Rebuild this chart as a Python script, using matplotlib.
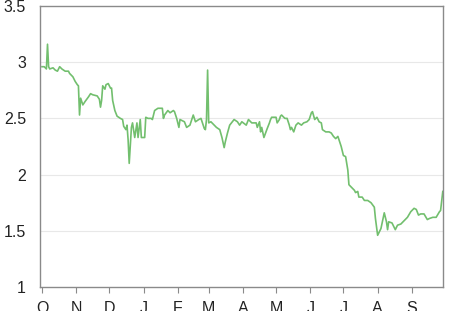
import numpy as np
import pandas as pd
import matplotlib
matplotlib.use("Agg")
import matplotlib.pyplot as plt
import matplotlib.dates as mdates
from matplotlib.ticker import FuncFormatter

# days since 1 Oct and the value
start = pd.Timestamp("2014-10-01")
day_offsets = [
    0, 2, 4, 5, 6, 7, 10, 12, 14, 16, 18, 21, 24, 25, 28, 30, 32, 33, 34, 35,
    37, 39, 42, 44, 46, 50, 52, 53, 54, 55, 57, 58, 60, 62, 63, 64, 66, 68, 71, 73,
    74, 76, 77, 78, 79, 81, 82, 84, 86, 87, 89, 90, 91, 93, 94, 96, 99, 100, 102, 105,
    109, 110, 111, 114, 116, 119, 120, 122, 124, 125, 129, 131, 134, 137, 139, 142, 144, 147, 148, 149,
    150, 151, 153, 156, 158, 161, 163, 165, 166, 168, 170, 174, 177, 179, 181, 185, 187, 190, 194, 195,
    197, 198, 199, 201, 204, 206, 207, 208, 212, 213, 215, 216, 217, 220, 222, 224, 225, 226, 228, 230,
    232, 235, 237, 240, 242, 244, 245, 247, 249, 251, 253, 254, 257, 260, 262, 264, 266, 268, 269, 271,
    273, 275, 277, 278, 280, 283, 284, 286, 287, 290, 292, 295, 298, 301, 302, 304, 307, 310, 312, 313,
    314, 317, 320, 322, 325, 329, 331, 334, 337, 339, 341, 343, 346, 349, 351, 354, 357, 360, 361, 363,
]
values = [
    2.96, 2.96, 2.94, 3.16, 2.96, 2.94, 2.95, 2.93, 2.92, 2.96, 2.94, 2.92, 2.92, 2.90, 2.87, 2.83, 2.80, 2.79, 2.53, 2.68,
    2.62, 2.65, 2.69, 2.72, 2.71, 2.70, 2.67, 2.60, 2.66, 2.79, 2.76, 2.80, 2.81, 2.77, 2.77, 2.66, 2.57, 2.52, 2.50, 2.49,
    2.43, 2.40, 2.44, 2.31, 2.10, 2.42, 2.46, 2.33, 2.46, 2.33, 2.49, 2.33, 2.33, 2.33, 2.51, 2.50, 2.50, 2.49, 2.57, 2.59,
    2.59, 2.50, 2.53, 2.57, 2.55, 2.57, 2.56, 2.50, 2.42, 2.49, 2.47, 2.42, 2.44, 2.53, 2.47, 2.49, 2.50, 2.41, 2.40, 2.49,
    2.93, 2.46, 2.47, 2.44, 2.42, 2.40, 2.33, 2.24, 2.29, 2.37, 2.44, 2.49, 2.47, 2.44, 2.47, 2.44, 2.49, 2.46, 2.46, 2.42,
    2.47, 2.38, 2.42, 2.33, 2.41, 2.46, 2.49, 2.51, 2.51, 2.46, 2.49, 2.52, 2.53, 2.50, 2.50, 2.44, 2.40, 2.42, 2.38, 2.44,
    2.46, 2.44, 2.46, 2.47, 2.49, 2.55, 2.56, 2.49, 2.51, 2.47, 2.46, 2.40, 2.38, 2.38, 2.37, 2.34, 2.32, 2.34, 2.31, 2.25,
    2.17, 2.16, 2.04, 1.91, 1.89, 1.86, 1.84, 1.85, 1.80, 1.80, 1.77, 1.77, 1.75, 1.71, 1.61, 1.46, 1.52, 1.66, 1.58, 1.51,
    1.58, 1.57, 1.51, 1.55, 1.56, 1.60, 1.62, 1.67, 1.70, 1.69, 1.64, 1.65, 1.65, 1.60, 1.61, 1.62, 1.62, 1.67, 1.68, 1.85,
]
y_ticks = [1, 1.5, 2, 2.5, 3, 3.5]

dates = start + pd.to_timedelta(day_offsets, unit="D")

plt.rcParams["font.family"] = ["Liberation Sans", "DejaVu Sans"]

fig = plt.figure(figsize=(4.57, 3.11), dpi=100)
ax = fig.add_axes([40 / 457, 24 / 311, 403 / 457, 281 / 311])

ax.plot(dates, values, color="#72bf6e", linewidth=1.2)

ax.set_ylim(1, 3.5)
ax.set_yticks(y_ticks)
ax.set_yticklabels(["1", "1.5", "2", "2.5", "3", "3.5"])
ax.set_xlim(start - pd.Timedelta(days=1.8), start + pd.Timedelta(days=363.2))

ax.xaxis.set_major_locator(mdates.MonthLocator())
ax.xaxis.set_major_formatter(FuncFormatter(lambda x, pos: mdates.num2date(x).strftime("%b")[0]))

for y in y_ticks[1:-1]:
    ax.axhline(y, color="#e8e8e8", linewidth=0.8, zorder=0)

for s in ax.spines.values():
    s.set_color("#8a8a8a")
    s.set_linewidth(1.0)

ax.tick_params(axis="x", length=4, color="#8a8a8a", labelsize=11.5, pad=6, labelcolor="#222222")
ax.tick_params(axis="y", length=0, labelsize=11.5, pad=10, labelcolor="#222222")

fig.savefig("out.png", dpi=100)
